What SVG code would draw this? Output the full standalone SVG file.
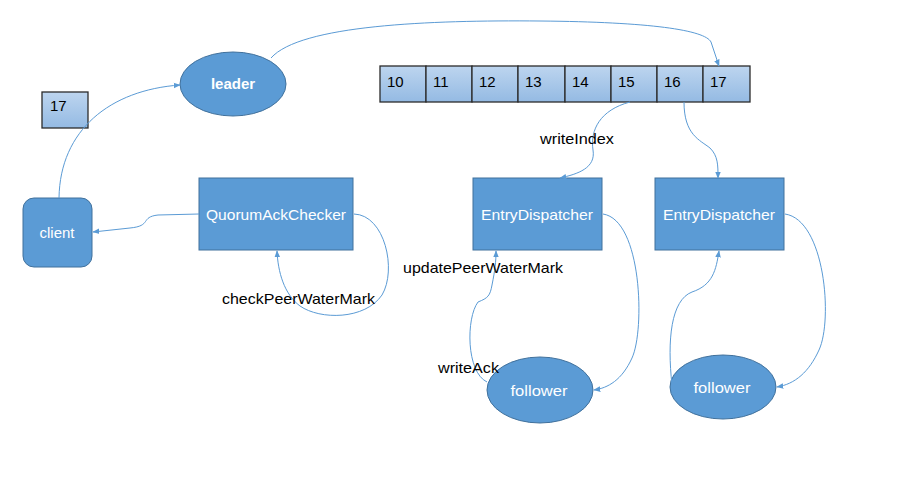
<svg xmlns="http://www.w3.org/2000/svg" width="905" height="482" viewBox="0 0 905 482">
<style>
.node{fill:#5B9BD5;stroke:#41719C;stroke-width:1}
.nt{font-family:"Liberation Sans",Arial,sans-serif;font-size:15px;fill:#ffffff;text-anchor:middle}
.cell{fill:url(#cg);stroke:#2b2b2b;stroke-width:1.3}
.ct{font-family:"Liberation Sans",Arial,sans-serif;font-size:15px;fill:#000000}
.lbl{font-family:"Liberation Sans",Arial,sans-serif;font-size:15px;fill:#000000}
.edge{fill:none;stroke:#5B9BD5;stroke-width:1;marker-end:url(#ah)}
</style>
<defs>
<linearGradient id="cg" x1="0" y1="0" x2="0" y2="1">
<stop offset="0" stop-color="#BDD5EF"/>
<stop offset="1" stop-color="#94BAE3"/>
</linearGradient>
<marker id="ah" viewBox="0 0 10 10" refX="9" refY="5" markerWidth="7" markerHeight="7" orient="auto" markerUnits="userSpaceOnUse">
<path d="M0,1 L10,5 L0,9 z" fill="#5B9BD5"/>
</marker>
</defs>
<rect width="905" height="482" fill="#ffffff"/>

<g id="log">
<rect class="cell" x="380" y="66" width="46" height="36"/>
<rect class="cell" x="426" y="66" width="46" height="36"/>
<rect class="cell" x="472" y="66" width="46" height="36"/>
<rect class="cell" x="518" y="66" width="47" height="36"/>
<rect class="cell" x="565" y="66" width="46" height="36"/>
<rect class="cell" x="611" y="66" width="46" height="36"/>
<rect class="cell" x="657" y="66" width="46" height="36"/>
<rect class="cell" x="703" y="66" width="47" height="36"/>
<text class="ct" x="387" y="87">10</text>
<text class="ct" x="433" y="87">11</text>
<text class="ct" x="479" y="87">12</text>
<text class="ct" x="525" y="87">13</text>
<text class="ct" x="572" y="87">14</text>
<text class="ct" x="618" y="87">15</text>
<text class="ct" x="664" y="87">16</text>
<text class="ct" x="710" y="87">17</text>
</g>

<g id="entry17">
<rect class="cell" x="42" y="92" width="46" height="36"/>
<text class="ct" x="50" y="111">17</text>
</g>

<g id="leader">
<ellipse class="node" cx="233" cy="84" rx="53" ry="32"/>
<text class="nt" x="233" y="89" font-weight="bold">leader</text>
</g>

<g id="client">
<rect class="node" x="23" y="198" width="69" height="69" rx="11"/>
<text class="nt" x="57" y="238">client</text>
</g>

<g id="quorumAckChecker">
<rect class="node" x="199" y="178" width="154" height="72"/>
<text class="nt" x="276" y="220" textLength="140" lengthAdjust="spacingAndGlyphs">QuorumAckChecker</text>
</g>

<g id="entryDispatcher1">
<rect class="node" x="473" y="178" width="129" height="72"/>
<text class="nt" x="537" y="220" textLength="112" lengthAdjust="spacingAndGlyphs">EntryDispatcher</text>
</g>

<g id="entryDispatcher2">
<rect class="node" x="655" y="178" width="129" height="72"/>
<text class="nt" x="719" y="220" textLength="112" lengthAdjust="spacingAndGlyphs">EntryDispatcher</text>
</g>

<g id="follower1">
<ellipse class="node" cx="540" cy="390" rx="53" ry="33"/>
<text class="nt" x="539" y="396" textLength="57" lengthAdjust="spacingAndGlyphs">follower</text>
</g>

<g id="follower2">
<ellipse class="node" cx="723" cy="387" rx="53" ry="32"/>
<text class="nt" x="722" y="393" textLength="57" lengthAdjust="spacingAndGlyphs">follower</text>
</g>

<g id="connectors">
<path class="edge" d="M271,58 C300,25 430,20 540,21 C650,22 705,30 711,42 C714,50 716,58 719,66"/>
<path class="edge" d="M59,198 C60,130 110,90 180,85"/>
<path class="edge" d="M199,214 L158,215 C140,217 152,226 130,228 L93,232"/>
<path class="edge" d="M354,214 C385,215 397,270 382,295 C365,320 320,320 300,306 C284,294 278,272 277,251"/>
<path class="edge" d="M630,102 C600,110 590,130 593,150 C596,168 578,174 560,178"/>
<path class="edge" d="M684,102 C684,135 700,140 710,148 C718,156 718,165 718,178"/>
<path class="edge" d="M603,214 C642,220 645,330 632,358 C622,380 608,388 594,390"/>
<path class="edge" d="M487,382 C466,372 466,318 478,302 C488,298 490,296 492,285 C495,270 496,262 496,251"/>
<path class="edge" d="M785,214 C825,220 833,320 819,350 C809,372 795,384 777,387"/>
<path class="edge" d="M672,385 C667,340 671,300 692,292 C713,285 716,270 719,251"/>
</g>

<g id="labels">
<text class="lbl" x="540" y="144" textLength="74" lengthAdjust="spacingAndGlyphs">writeIndex</text>
<text class="lbl" x="222" y="304" textLength="153" lengthAdjust="spacingAndGlyphs">checkPeerWaterMark</text>
<text class="lbl" x="403" y="273" textLength="160" lengthAdjust="spacingAndGlyphs">updatePeerWaterMark</text>
<text class="lbl" x="438" y="373" textLength="61" lengthAdjust="spacingAndGlyphs">writeAck</text>
</g>
</svg>
